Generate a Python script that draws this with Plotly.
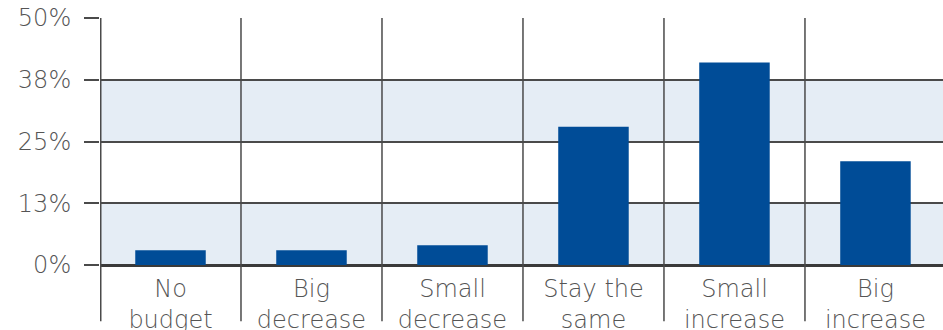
import plotly.graph_objects as go

categories = ["No<br>budget", "Big<br>decrease", "Small<br>decrease", "Stay the<br>same", "Small<br>increase", "Big<br>increase"]
values = [3, 3, 4, 28, 41, 21]
y_tickvals = [0, 12.5, 25, 37.5, 50]
y_ticktext = ["0%", "13%", "25%", "38%", "50%"]
bands = [(0, 12.5), (25, 37.5)]

FONT = "DejaVu Sans"
TXT = "#555555"
GRID = "#4a4a4a"
FS = 24

xpos = list(range(len(categories)))

fig = go.Figure(go.Bar(x=xpos, y=values, marker=dict(color="#004C97", line=dict(width=0)), width=0.5))

shapes = []
for lo, hi in bands:
    shapes.append(dict(type="rect", xref="paper", yref="y", x0=0, x1=1, y0=lo, y1=hi,
                       fillcolor="#E5EDF5", line=dict(width=0), layer="below"))
for k in range(len(categories) - 1):
    shapes.append(dict(type="line", xref="x", yref="paper", x0=k + 0.5, x1=k + 0.5, y0=-0.228, y1=1,
                       line=dict(color=GRID, width=1.5), layer="above"))
shapes.append(dict(type="line", xref="x", yref="paper", x0=-0.5, x1=-0.5, y0=-0.228, y1=1,
                   line=dict(color=GRID, width=3), layer="above"))

fig.update_layout(
    width=943, height=330,
    margin=dict(l=100, r=0, t=18, b=64.5, autoexpand=False),
    paper_bgcolor="white", plot_bgcolor="white",
    showlegend=False,
    shapes=shapes,
    font=dict(family=FONT, color=TXT, size=FS, weight=300),
    xaxis=dict(range=[-0.5, 5.479], tickvals=xpos, ticktext=categories, showgrid=False,
               zeroline=False, showline=False, ticks="", ticklabelstandoff=7, automargin=False,
               ticklabeloverflow="allow",
               tickfont=dict(family=FONT, size=FS, color=TXT, weight=300)),
    yaxis=dict(range=[0, 50], tickvals=y_tickvals, ticktext=y_ticktext, showgrid=True,
               gridcolor=GRID, gridwidth=1.5, zeroline=True, zerolinecolor="#3a3a3a",
               zerolinewidth=3, showline=False, ticks="outside", ticklen=15, tickwidth=1.5,
               tickcolor=GRID, ticklabelstandoff=8, automargin=False, ticklabeloverflow="allow",
               tickfont=dict(family=FONT, size=FS, color=TXT, weight=300)),
)

fig.write_html("out.html", config={"displayModeBar": False},
               post_script="document.body.style.margin='0';document.body.style.overflow='hidden';")
